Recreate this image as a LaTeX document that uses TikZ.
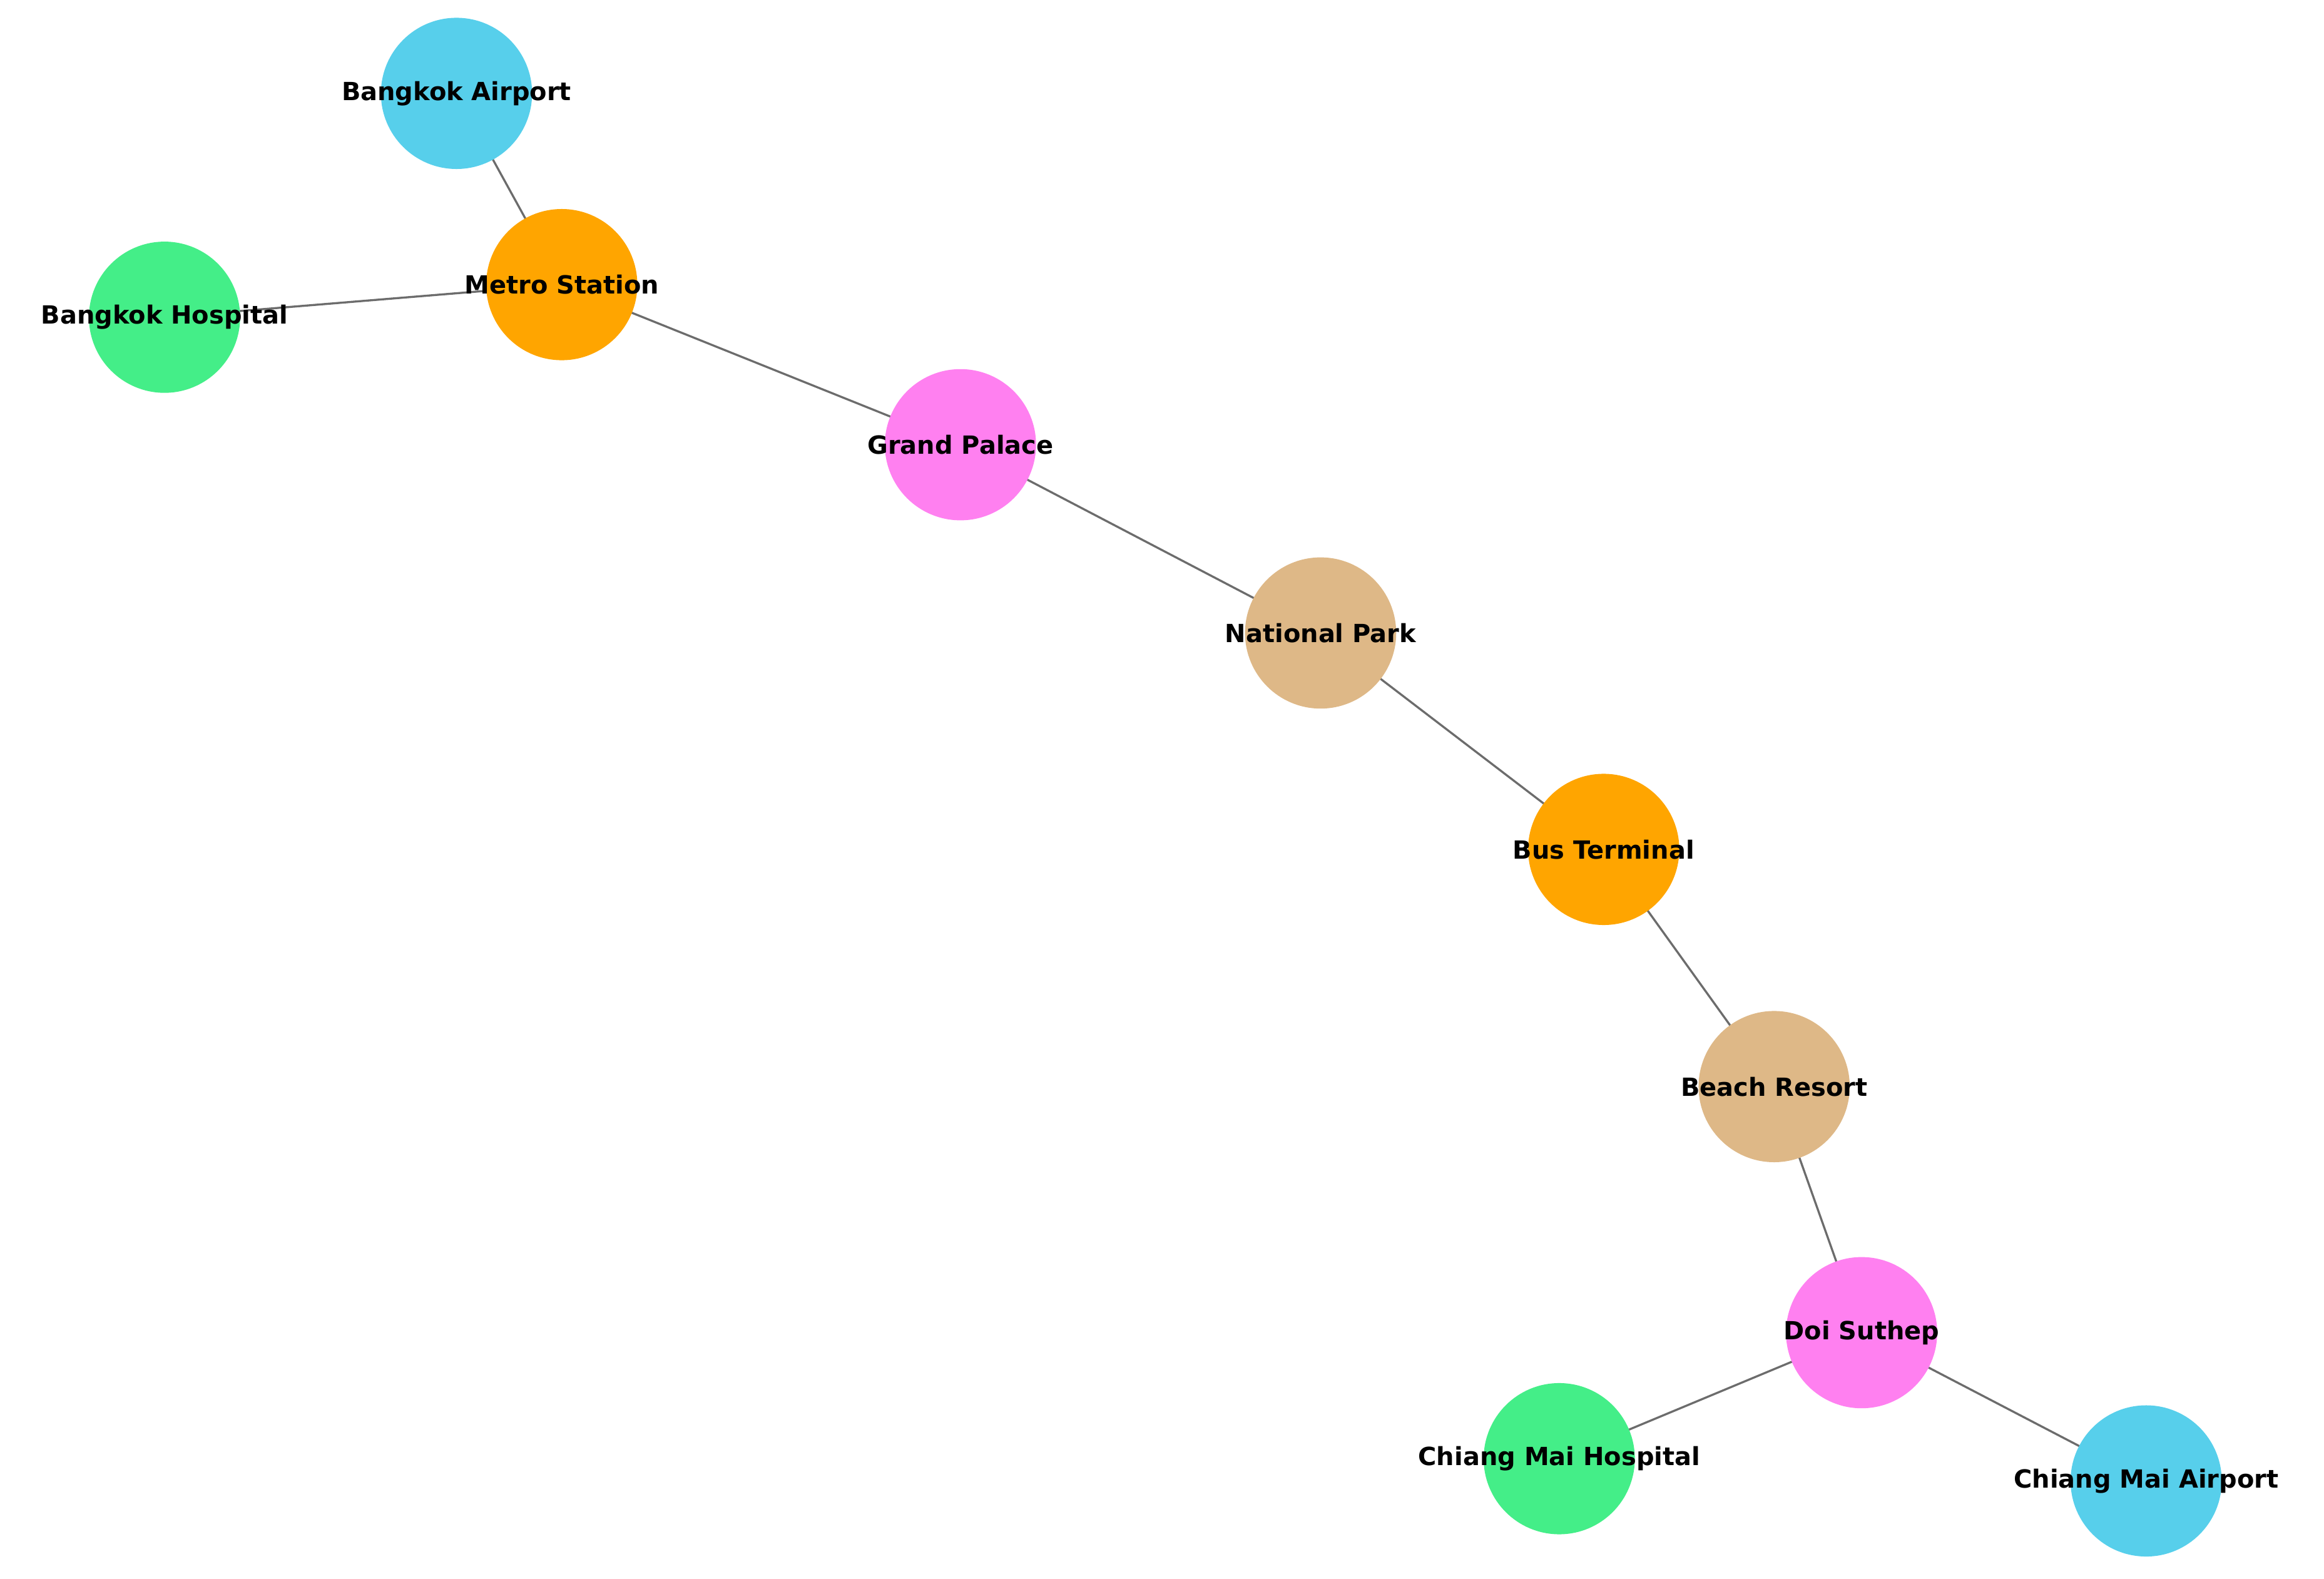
\documentclass[tikz,border=0pt]{standalone}
\usepackage{fontspec}
\setmainfont{DejaVu Sans}
\usetikzlibrary{backgrounds}
\definecolor{cblue}{HTML}{57CFEB}
\definecolor{corange}{HTML}{FFA500}
\definecolor{cgreen}{HTML}{44EE88}
\definecolor{cpink}{HTML}{FF80F0}
\definecolor{ctan}{HTML}{DEB887}
\begin{document}
\begin{tikzpicture}[x=0.05cm,y=-0.05cm,
  v/.style={circle,minimum size=5.1cm,inner sep=0pt,draw=none,label={[font=\bfseries\fontsize{24}{28}\selectfont]center:#1}},
  e/.style={draw=gray!85!black,line width=2pt}]
\useasboundingbox (0,0) rectangle (1568,1065);
\node[v=Bangkok Airport,fill=cblue] (ba) at (308,63) {};
\node[v=Metro Station,fill=corange] (ms) at (379,192) {};
\node[v=Bangkok Hospital,fill=cgreen] (bh) at (111,214) {};
\node[v=Grand Palace,fill=cpink] (gp) at (648,300) {};
\node[v=National Park,fill=ctan] (np) at (891,427) {};
\node[v=Bus Terminal,fill=corange] (bt) at (1082,573) {};
\node[v=Beach Resort,fill=ctan] (br) at (1197,733) {};
\node[v=Doi Suthep,fill=cpink] (ds) at (1256,899) {};
\node[v=Chiang Mai Hospital,fill=cgreen] (ch) at (1052,984) {};
\node[v=Chiang Mai Airport,fill=cblue] (ca) at (1448,999) {};
\begin{scope}[on background layer]
\path[e] (ba.center) -- (ms.center);
\path[e] (bh.center) -- (ms.center);
\path[e] (ms.center) -- (gp.center);
\path[e] (gp.center) -- (np.center);
\path[e] (np.center) -- (bt.center);
\path[e] (bt.center) -- (br.center);
\path[e] (br.center) -- (ds.center);
\path[e] (ds.center) -- (ch.center);
\path[e] (ds.center) -- (ca.center);
\end{scope}
\end{tikzpicture}
\end{document}
